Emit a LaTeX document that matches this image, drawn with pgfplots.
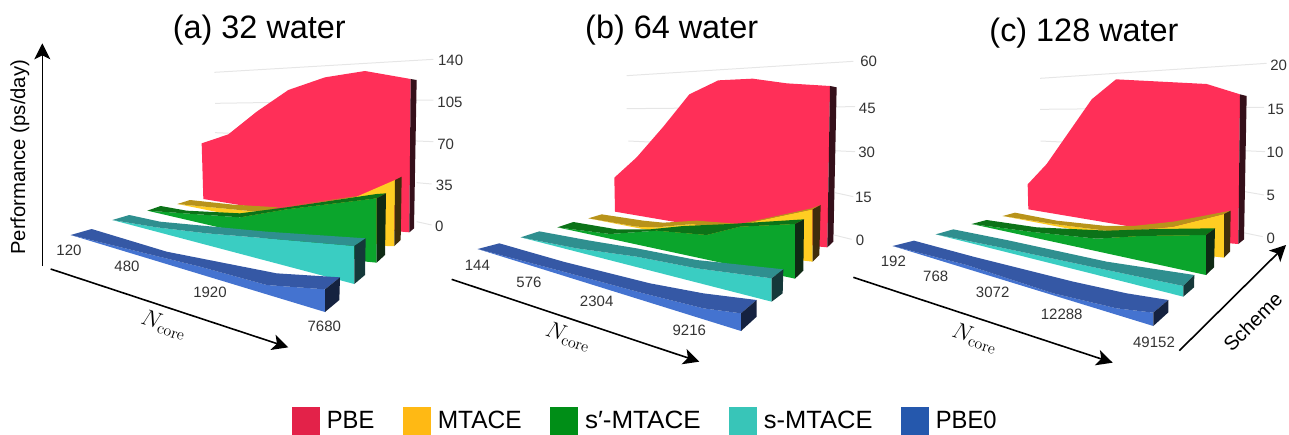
\documentclass[border=0pt]{standalone}
\usepackage[no-math]{fontspec}
\setmainfont{Liberation Sans}
\usepackage{pgfplots}
\pgfplotsset{compat=1.18}
\usetikzlibrary{arrows.meta}
% colours: F = front face, T = top strip, S = side, L = legend
\definecolor{pbeF}{HTML}{FF2F58}\definecolor{pbeS}{HTML}{35101A}\definecolor{pbeL}{HTML}{E32249}
\definecolor{mtaF}{HTML}{FFCD22}\definecolor{mtaT}{HTML}{B8931A}\definecolor{mtaS}{HTML}{3F2E0C}\definecolor{mtaL}{HTML}{FFB914}
\definecolor{spF}{HTML}{0BA52C}\definecolor{spT}{HTML}{0C7318}\definecolor{spS}{HTML}{0F2A14}\definecolor{spL}{HTML}{008E17}
\definecolor{sF}{HTML}{3ACDC2}\definecolor{sT}{HTML}{2F8F8F}\definecolor{sS}{HTML}{15383A}\definecolor{sL}{HTML}{38C5B8}
\definecolor{bF}{HTML}{4473D0}\definecolor{bT}{HTML}{3558A5}\definecolor{bS}{HTML}{152240}\definecolor{bL}{HTML}{2558AD}
\definecolor{gridc}{HTML}{E6E6E6}\definecolor{tickc}{HTML}{333333}
\newcommand{\poly}[2]{\addplot[fill=#1,draw=none,forget plot] coordinates {#2};}
\newcommand{\gl}[1]{\addplot[gridc,line width=0.75pt,forget plot] coordinates {#1};}
\newcommand{\arr}[1]{\addplot[black,line width=1.2pt,-{Stealth[inset=3pt,length=12pt,width=12pt]},forget plot] coordinates {#1};}
\newcommand{\tl}[3]{\node[text=tickc,font=\fontsize{11.25}{12}\selectfont,inner sep=0pt] at (axis cs:#1,#2) {#3};}
\newcommand{\ttl}[3]{\node[font=\fontsize{24.3}{28}\selectfont,inner sep=0pt] at (axis cs:#1,#2) {#3};}
\newcommand{\nc}[2]{\node[rotate=-18,font=\fontsize{17.5}{20}\selectfont,inner sep=0pt] at (axis cs:#1,#2) {$N_{\mathrm{core}}$};}
\newcommand{\leg}[2]{\scalebox{#1}[1]{#2}}
\pgfplotsset{panel/.style={
  hide axis,scale only axis,clip=false,y dir=reverse,
  anchor=south west,height=326.25pt,ymin=0,ymax=1305}}
\pgfplotsset{swatch/.style={legend image code/.code={\fill[##1] (0pt,-10.5pt) rectangle (21pt,10.5pt);}}}
\begin{document}
\begin{tikzpicture}
\useasboundingbox (0,0) rectangle (966.75pt,326.25pt);
% ---------------- (a) ----------------
\begin{axis}[panel,at={(0pt,0pt)},width=322.5pt,xmin=0,xmax=1290,
  legend columns=5,
  legend cell align=left,
  legend style={draw=none,fill=none,inner sep=0pt,at={(0.679,0.0)},anchor=south west,
    font=\fontsize{18.75}{20}\selectfont,
    /tikz/every even column/.append style={column sep=19.5pt},
    /tikz/every odd column/.append style={column sep=3pt}}]
\addlegendimage{swatch,fill=pbeL,draw=none}\addlegendentry{\leg{0.95}{PBE}}
\addlegendimage{swatch,fill=mtaL,draw=none}\addlegendentry{\leg{0.98}{MTACE}}
\addlegendimage{swatch,fill=spL,draw=none}\addlegendentry{\leg{1.04}{s′-MTACE}}
\addlegendimage{swatch,fill=sL,draw=none}\addlegendentry{\leg{1.02}{s-MTACE}}
\addlegendimage{swatch,fill=bL,draw=none}\addlegendentry{\leg{0.95}{PBE0}}
\gl{(643,217) (1300,178)}
\gl{(645,310) (1300,300)}
\gl{(645,398) (1300,425)}
\gl{(1250,548) (1295,552)}
\gl{(1250,665) (1295,675)}
\poly{pbeF}{(605,430) (635,420) (685,403) (770,335) (865,270) (975,232) (1095,213) (1232,237) (1228,697) (1205,695) (610,597)}
\poly{pbeS}{(1232,237) (1250,240) (1242,685) (1228,697)}
\poly{mtaF}{(532,612) (780,636) (1070,590) (1185,540) (1183,738) (1160,738)}
\poly{mtaT}{(532,612) (570,600) (700,614) (835,622) (780,636)}
\poly{mtaT}{(835,622) (1060,590) (1070,590)}
\poly{mtaS}{(1185,540) (1205,530) (1202,720) (1183,738)}
\poly{spF}{(442,632) (720,652) (860,628) (1130,595) (1130,788) (1100,785)}
\poly{spT}{(442,632) (482,618) (560,632) (720,640) (860,622) (1130,582) (1158,580) (1130,595) (860,628) (720,652)}
\poly{spS}{(1130,595) (1158,580) (1155,765) (1130,788)}
\poly{sF}{(337,660) (470,682) (620,700) (800,715) (1063,738) (1063,852)}
\poly{sT}{(337,660) (388,645) (480,665) (640,680) (800,695) (1097,715) (1063,738) (800,715) (620,700) (470,682)}
\poly{sS}{(1063,738) (1097,715) (1095,825) (1063,852)}
\poly{bF}{(212,705) (600,800) (800,855) (975,868) (975,936)}
\poly{bT}{(212,705) (275,687) (500,755) (830,820) (1020,832) (975,868) (800,855) (600,800)}
\poly{bS}{(975,868) (1020,832) (1018,900) (975,936)}
\arr{(127,798) (127,130)}
\arr{(152,807) (865,1042)}
\ttl{778}{90}{(a) 32 water}
\node[rotate=90,font=\fontsize{15.2}{18}\selectfont,inner sep=0pt] at (axis cs:60,472) {Performance (ps/day)};
\nc{492}{975}
\tl{207}{750}{120}\tl{381}{800}{480}\tl{630}{877}{1920}\tl{973}{980}{7680}
\tl{1352}{180}{140}\tl{1350}{308}{105}\tl{1337}{433}{70}\tl{1333}{557}{35}\tl{1318}{680}{0}
\end{axis}
% ---------------- (b) ----------------
\begin{axis}[panel,at={(322.5pt,0pt)},width=307.5pt,xmin=0,xmax=1230]
\gl{(590,227) (1270,184)}
\gl{(590,326) (1275,320)}
\gl{(595,423) (1275,455)}
\gl{(1215,578) (1270,590)}
\gl{(1212,705) (1265,718)}
\poly{pbeF}{(553,533) (620,472) (700,380) (778,283) (865,241) (968,236) (1070,250) (1200,258) (1192,742) (1170,740) (555,635)}
\poly{pbeS}{(1200,258) (1220,262) (1210,725) (1192,742)}
\poly{mtaF}{(475,655) (620,680) (680,682) (790,672) (870,688) (940,672) (1148,628) (1148,785) (1122,782)}
\poly{mtaT}{(475,655) (515,643) (640,662) (700,668) (800,662) (930,672) (1145,625) (1172,615) (1148,628) (940,672) (870,688) (790,672) (680,682) (620,680)}
\poly{mtaS}{(1148,628) (1172,615) (1168,765) (1148,785)}
\poly{spF}{(382,682) (540,702) (680,692) (830,705) (930,680) (1095,672) (1095,836)}
\poly{spT}{(382,682) (430,666) (560,688) (660,688) (760,678) (900,672) (1122,658) (1095,672) (930,680) (830,705) (680,692) (540,702)}
\poly{spS}{(1095,672) (1122,658) (1120,812) (1095,836)}
\poly{sF}{(272,712) (440,745) (620,770) (800,805) (1025,835) (1025,905)}
\poly{sT}{(272,712) (328,694) (480,722) (620,745) (800,780) (1060,808) (1025,835) (800,805) (620,770) (440,745)}
\poly{sS}{(1025,835) (1060,808) (1058,880) (1025,905)}
\poly{bF}{(143,747) (400,815) (640,880) (820,925) (933,940) (933,993)}
\poly{bT}{(143,747) (208,730) (400,785) (660,850) (820,880) (980,900) (933,940) (820,925) (640,880) (400,815)}
\poly{bS}{(933,940) (980,900) (980,950) (933,993)}
\arr{(65,838) (808,1085)}
\ttl{725}{90}{(b) 64 water}
\nc{415}{1010}
\tl{142}{795}{144}\tl{297}{846}{576}\tl{500}{905}{2304}\tl{778}{990}{9216}
\tl{1316}{185}{60}\tl{1312}{324}{45}\tl{1310}{458}{30}\tl{1300}{592}{15}\tl{1290}{722}{0}
\end{axis}
% ---------------- (c) ----------------
\begin{axis}[panel,at={(630pt,0pt)},width=336.75pt,xmin=0,xmax=1347]
\gl{(600,235) (1280,190)}
\gl{(600,328) (1272,322)}
\gl{(602,423) (1275,455)}
\gl{(1215,575) (1272,585)}
\gl{(1210,698) (1268,710)}
\poly{pbeF}{(563,553) (620,492) (755,298) (828,238) (1100,252) (1200,283) (1195,732) (1170,730) (565,628)}
\poly{pbeS}{(1200,283) (1220,288) (1212,718) (1195,732)}
\poly{mtaF}{(488,648) (640,672) (820,695) (900,690) (1000,680) (1152,642) (1152,773) (1125,770)}
\poly{mtaT}{(488,648) (525,638) (650,662) (800,678) (880,678) (1000,665) (1172,632) (1152,642) (1000,680) (900,690) (820,695) (640,672)}
\poly{mtaS}{(1152,642) (1172,632) (1170,755) (1152,773)}
\poly{spF}{(395,672) (570,695) (770,716) (900,708) (1098,705) (1098,825)}
\poly{spT}{(395,672) (440,660) (590,682) (800,692) (950,687) (1125,685) (1098,705) (900,708) (770,716) (570,695)}
\poly{spS}{(1098,705) (1125,685) (1122,802) (1098,825)}
\poly{sF}{(287,703) (480,742) (800,810) (1030,858) (1030,890)}
\poly{sT}{(287,703) (340,688) (500,720) (800,785) (1063,825) (1030,858) (800,810) (480,742)}
\poly{sS}{(1030,858) (1063,825) (1062,862) (1030,890)}
\poly{bF}{(158,738) (380,795) (640,880) (830,925) (940,938) (940,978)}
\poly{bT}{(158,738) (222,722) (400,770) (700,845) (860,880) (985,900) (940,938) (830,925) (640,880) (380,795)}
\poly{bS}{(940,938) (985,900) (985,937) (940,978)}
\arr{(40,832) (818,1088)}
\arr{(1018,1052) (1338,735)}
\ttl{732}{100}{(c) 128 water}
\node[rotate=45,font=\fontsize{15}{18}\selectfont,inner sep=0pt] at (axis cs:1238,965) {Scheme};
\nc{405}{1015}
\tl{160}{785}{192}\tl{287}{828}{768}\tl{458}{876}{3072}\tl{665}{943}{12288}\tl{942}{1027}{49152}
\tl{1316}{195}{20}\tl{1307}{328}{15}\tl{1305}{458}{10}\tl{1292}{587}{5}\tl{1292}{715}{0}
\end{axis}
\end{tikzpicture}
\end{document}
